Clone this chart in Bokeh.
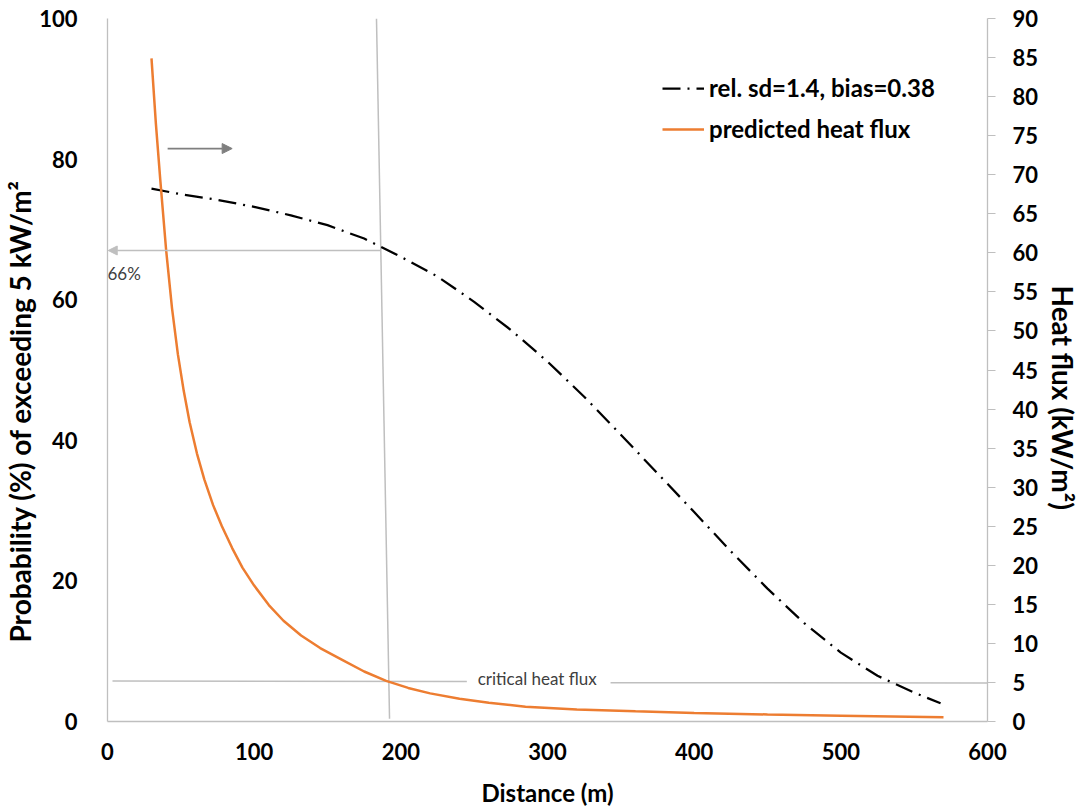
from bokeh.plotting import figure
from bokeh.models import (Range1d, LinearAxis, Legend, LegendItem, Arrow, NormalHead,
                          FixedTicker, ColumnDataSource, Title)
from bokeh.core.properties import value
from bokeh.embed import file_html
from bokeh.resources import INLINE

# ---- data ----
prob_distance = [30, 50, 75, 100, 125, 150, 175, 200, 225, 250, 275, 300, 325, 350,
                 375, 400, 425, 450, 475, 500, 525, 550, 568]
prob_exceed = [75.8, 75.0, 74.2, 73.2, 72.0, 70.6, 68.7, 66.1, 63.3, 59.7, 55.7, 51.2,
               46.2, 40.8, 35.3, 29.8, 24.2, 18.9, 14.0, 9.8, 6.5, 4.1, 2.6]

flux_distance = [30, 33, 36, 40, 44, 48, 52, 56, 61, 66, 72, 78, 85, 92, 100, 110, 120,
                 132, 145, 160, 175, 190, 205, 220, 240, 260, 285, 320, 360, 400, 450,
                 500, 570]
heat_flux = [84.9, 76.5, 69.3, 60.3, 52.9, 47.0, 42.3, 38.3, 34.3, 31.0, 27.7, 25.0,
             22.2, 19.7, 17.4, 14.9, 12.9, 11.0, 9.4, 7.9, 6.4, 5.2, 4.3, 3.6, 2.9,
             2.4, 1.9, 1.55, 1.3, 1.1, 0.9, 0.75, 0.55]

x_ticks = [0, 100, 200, 300, 400, 500, 600]
left_ticks = [0, 20, 40, 60, 80, 100]
right_ticks = list(range(0, 91, 5))

critical_flux = 5                    # kW/m2
critical_distance = [183.4, 192.3]   # top / bottom of the hand-drawn vertical line
prob_at_critical = 67.0              # where the 66% line is drawn
prob_label = "66%"

series_names = ["rel. sd=1.4, bias=0.38", "predicted heat flux"]
left_title = "Probability (%) of exceeding 5 kW/m²"
right_title = "Heat flux (kW/m²)"

FONT = "Lato"
AXIS_GRAY = "#BFBFBF"
ORANGE = "#ED7D31"

p = figure(width=1086, height=809, output_backend="svg", toolbar_location=None,
           x_range=Range1d(0, 600), y_range=Range1d(0, 100),
           min_border_left=107, min_border_right=99, min_border_top=18,
           min_border_bottom=88)
p.extra_y_ranges = {"flux": Range1d(0, 90)}
p.outline_line_color = None
p.xgrid.visible = False
p.ygrid.visible = False
p.background_fill_color = "white"
p.border_fill_color = "white"

for ax in [p.xaxis[0], p.yaxis[0]]:
    ax.axis_line_color = AXIS_GRAY
    ax.axis_line_width = 1.3
    ax.major_tick_line_color = None
    ax.minor_tick_line_color = None
    ax.major_label_text_font = FONT
    ax.major_label_text_font_style = "bold"
    ax.major_label_text_font_size = "22px"
    ax.major_label_text_color = "black"
    ax.axis_label_text_font = FONT
    ax.axis_label_text_font_style = "bold"
    ax.axis_label_text_font_size = "24px"
    ax.axis_label_text_color = "black"

p.xaxis[0].ticker = FixedTicker(ticks=x_ticks)
p.xaxis[0].major_label_standoff = 15
p.xaxis[0].axis_label = "Distance (m)"
p.xaxis[0].axis_label_standoff = 15

p.yaxis[0].ticker = FixedTicker(ticks=left_ticks)
p.yaxis[0].major_label_standoff = 24

right = LinearAxis(y_range_name="flux", ticker=FixedTicker(ticks=right_ticks))
right.axis_line_color = AXIS_GRAY
right.axis_line_width = 1.3
right.major_tick_line_color = AXIS_GRAY
right.major_tick_out = 8
right.major_tick_in = 0
right.minor_tick_line_color = None
right.major_label_standoff = 17
right.major_label_text_font = FONT
right.major_label_text_font_style = "bold"
right.major_label_text_font_size = "22px"
right.major_label_text_color = "black"
p.add_layout(right, "right")

# axis titles (placed like the reference, a little below the vertical centre)
t_left = Title(text=left_title, align="left", offset=79, standoff=0,
               text_font=FONT, text_font_style="bold", text_font_size="28px",
               text_color="black")
p.add_layout(t_left, "left")
t_right = Title(text=right_title, align="left", offset=267, standoff=8,
                text_font=FONT, text_font_style="bold", text_font_size="28px",
                text_color="black")
p.add_layout(t_right, "right")

# annotation lines (light gray)
p.segment(x0=[critical_distance[0]], y0=[100], x1=[critical_distance[1]], y1=[0.4],
          line_color=AXIS_GRAY, line_width=1.5)
p.add_layout(Arrow(x_start=186, y_start=prob_at_critical, x_end=0.5, y_end=prob_at_critical,
                   line_color=AXIS_GRAY, line_width=1.5,
                   end=NormalHead(size=9, fill_color=AXIS_GRAY, line_color=AXIS_GRAY)))
p.text(x=[0], y=[63.7], text=[prob_label], text_font=value(FONT), text_font_size="17px",
       text_color="#404040", text_baseline="middle", text_align="left")

p.segment(x0=[3.4, 343], y0=[critical_flux + 0.2, critical_flux - 0.03],
          x1=[245, 600], y1=[critical_flux + 0.12, critical_flux - 0.07],
          line_color=AXIS_GRAY, line_width=1.5, y_range_name="flux")
p.text(x=[293], y=[critical_flux + 0.55], text=["critical heat flux"], text_font=value(FONT),
       text_font_size="17px", text_color="#404040", text_baseline="middle",
       text_align="center", y_range_name="flux")

# small dark-gray arrow pointing to right axis
p.add_layout(Arrow(x_start=41, y_start=81.5, x_end=85, y_end=81.5,
                   line_color="#7F7F7F", line_width=1.8,
                   end=NormalHead(size=10, fill_color="#7F7F7F", line_color="#7F7F7F")))

# data lines
src_p = ColumnDataSource(dict(x=prob_distance, y=prob_exceed))
src_f = ColumnDataSource(dict(x=flux_distance, y=heat_flux))
r_prob = p.line("x", "y", source=src_p, line_color="black", line_width=2.25,
                line_dash="18 7 2 7")
r_flux = p.line("x", "y", source=src_f, line_color=ORANGE, line_width=2.5,
                y_range_name="flux")

legend = Legend(items=[LegendItem(label=series_names[0], renderers=[r_prob]),
                       LegendItem(label=series_names[1], renderers=[r_flux])],
                location=(555, 578))
legend.background_fill_alpha = 0
legend.border_line_color = None
legend.padding = 0
legend.margin = 0
legend.spacing = 12
legend.glyph_width = 42
legend.glyph_height = 20
legend.label_height = 20
legend.label_standoff = 5
legend.label_text_font = FONT
legend.label_text_font_style = "bold"
legend.label_text_font_size = "24px"
legend.label_text_color = "black"
p.add_layout(legend, "center")

open("out.html", "w").write(file_html(p, INLINE))
